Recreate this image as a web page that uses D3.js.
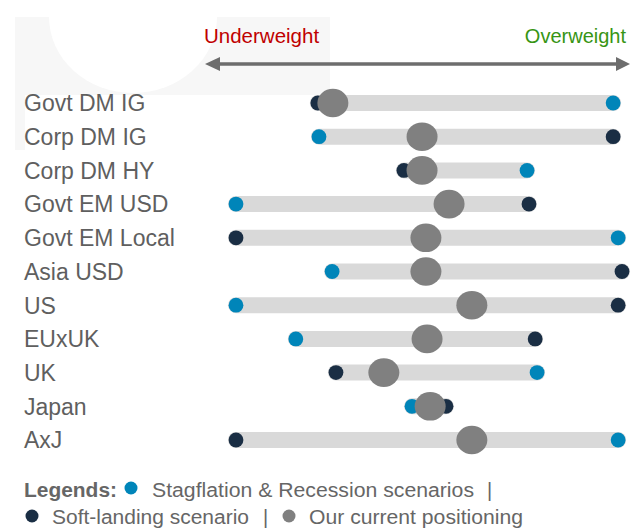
<!DOCTYPE html>
<html>
<head>
<meta charset="utf-8">
<script src="https://cdn.jsdelivr.net/npm/d3@7"></script>
<style>
  body { margin: 0; background: #fff; }
  svg { display: block; font-family: Arial, "Liberation Sans", sans-serif; }
</style>
</head>
<body>
<div id="chart"></div>
<script>
var width = 631,
    height = 528;

// positioning scores, 0 = most underweight, 100 = most overweight
var categories = ["Govt DM IG", "Corp DM IG", "Corp DM HY", "Govt EM USD", "Govt EM Local",
                  "Asia USD", "US", "EUxUK", "UK", "Japan", "AxJ"];
var stagflation = [97.7, 21.5, 75.4, 0, 99.0, 24.9, 0, 15.5, 78.0, 45.6, 99.0];
var softLanding = [21.2, 97.7, 43.5, 75.9, 0, 100, 99.0, 77.5, 25.9, 54.4, 0];
var current = [25.1, 48.2, 48.2, 55.2, 49.2, 49.2, 61.1, 49.5, 38.3, 50.3, 61.1];

var blue = "#0085b9",
    navy = "#1a2e44",
    grey = "#808080",
    barCol = "#d9d9d9",
    textCol = "#5f5f5f";

var x = d3.scaleLinear().domain([0, 100]).range([236, 622]);
var y = d3.scalePoint().domain(categories).range([103, 440]);

var svg = d3.select("#chart").append("svg")
  .attr("width", width)
  .attr("height", height);

// faint watermark in the background
svg.append("rect")
  .attr("x", 15).attr("y", 17)
  .attr("width", 315).attr("height", 78)
  .attr("fill", "#f7f7f7");
svg.append("rect")
  .attr("x", 15).attr("y", 95)
  .attr("width", 10).attr("height", 55)
  .attr("fill", "#f7f7f7");
svg.append("ellipse")
  .attr("cx", 133).attr("cy", 17)
  .attr("rx", 84).attr("ry", 76)
  .attr("fill", "#fff");

// arrow
var arrowY = 64;
svg.append("line")
  .attr("x1", 212).attr("x2", 623)
  .attr("y1", arrowY).attr("y2", arrowY)
  .attr("stroke", "#6d6d6d")
  .attr("stroke-width", 3.5);
svg.append("path")
  .attr("d", "M205," + arrowY + "L220," + (arrowY - 7) + "L220," + (arrowY + 7) + "Z")
  .attr("fill", "#6d6d6d");
svg.append("path")
  .attr("d", "M630," + arrowY + "L616," + (arrowY - 7) + "L616," + (arrowY + 7) + "Z")
  .attr("fill", "#6d6d6d");

svg.append("text")
  .attr("x", 204).attr("y", 43)
  .style("font-size", "20.5px")
  .attr("fill", "#c00000")
  .text("Underweight");
svg.append("text")
  .attr("x", 626).attr("y", 43)
  .attr("text-anchor", "end")
  .style("font-size", "20px")
  .attr("fill", "#379514")
  .text("Overweight");

// rows
var rows = svg.selectAll("g.row")
  .data(categories)
  .enter().append("g")
  .attr("class", "row")
  .attr("transform", function(d) { return "translate(0," + y(d) + ")"; });

rows.append("text")
  .attr("x", 24)
  .attr("y", 8.3)
  .style("font-size", "23px")
  .attr("fill", textCol)
  .text(function(d) { return d; });

rows.append("line")
  .attr("x1", function(d, i) { return x(Math.min(stagflation[i], softLanding[i], current[i])); })
  .attr("x2", function(d, i) { return x(Math.max(stagflation[i], softLanding[i], current[i])); })
  .attr("stroke", barCol)
  .attr("stroke-width", 16)
  .attr("stroke-linecap", "round");

rows.append("circle")
  .attr("cx", function(d, i) { return x(softLanding[i]); })
  .attr("r", 7.4)
  .attr("fill", navy);

rows.append("circle")
  .attr("cx", function(d, i) { return x(stagflation[i]); })
  .attr("r", 7.4)
  .attr("fill", blue);

rows.append("ellipse")
  .attr("cx", function(d, i) { return x(current[i]); })
  .attr("rx", 15.5)
  .attr("ry", 14.3)
  .attr("fill", grey);

// legend
var legend = svg.append("g").attr("fill", "#666");

legend.append("text")
  .attr("x", 24).attr("y", 497)
  .style("font-size", "20px")
  .style("font-weight", "bold")
  .attr("textLength", 93)
  .attr("lengthAdjust", "spacingAndGlyphs")
  .text("Legends:");
legend.append("circle").attr("cx", 131).attr("cy", 488).attr("r", 6.5).attr("fill", blue);
legend.append("text")
  .attr("x", 152).attr("y", 497)
  .style("font-size", "20px")
  .attr("textLength", 322)
  .attr("lengthAdjust", "spacingAndGlyphs")
  .text("Stagflation & Recession scenarios");
legend.append("text")
  .attr("x", 487).attr("y", 497)
  .style("font-size", "20px")
  .text("|");

legend.append("circle").attr("cx", 32).attr("cy", 516).attr("r", 6.5).attr("fill", navy);
legend.append("text")
  .attr("x", 52).attr("y", 524)
  .style("font-size", "20px")
  .attr("textLength", 197)
  .attr("lengthAdjust", "spacingAndGlyphs")
  .text("Soft-landing scenario");
legend.append("text")
  .attr("x", 263).attr("y", 524)
  .style("font-size", "20px")
  .text("|");
legend.append("circle").attr("cx", 289).attr("cy", 516).attr("r", 6.5).attr("fill", grey);
legend.append("text")
  .attr("x", 309).attr("y", 524)
  .style("font-size", "20px")
  .attr("textLength", 214)
  .attr("lengthAdjust", "spacingAndGlyphs")
  .text("Our current positioning");
</script>
</body>
</html>
